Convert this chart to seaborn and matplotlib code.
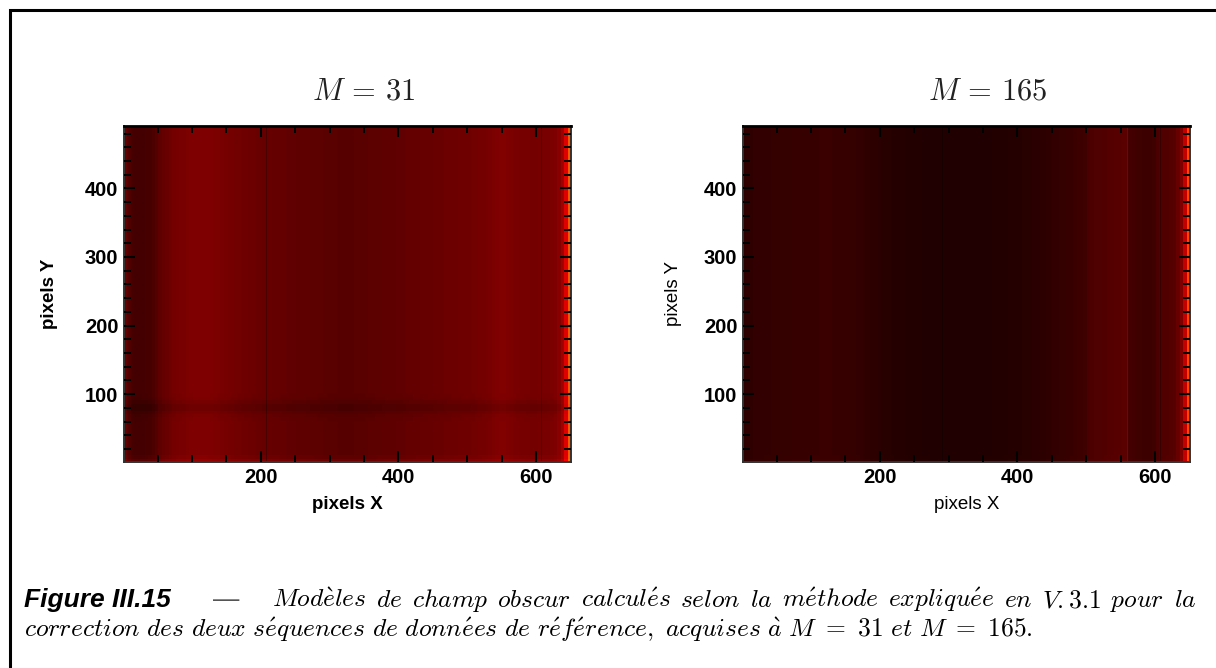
import numpy as np
import pandas as pd
import matplotlib
matplotlib.use("Agg")
import matplotlib.pyplot as plt
from matplotlib.lines import Line2D
import seaborn as sns

sns.set_theme(style="white")
plt.rcParams['font.family'] = ['Liberation Sans', 'DejaVu Sans']
plt.rcParams['mathtext.fontset'] = 'cm'

# column brightness, one value per 5 detector columns (X = 1 to 650)
profile_31 = [0.130, 0.100, 0.085, 0.082, 0.082, 0.083, 0.085, 0.088, 0.095, 0.105,
              0.118, 0.128, 0.135, 0.142, 0.148, 0.152, 0.155, 0.157, 0.160, 0.162,
              0.164, 0.165, 0.165, 0.165, 0.164, 0.163, 0.160, 0.158, 0.155, 0.152,
              0.150, 0.148, 0.146, 0.144, 0.142, 0.140, 0.138, 0.136, 0.135, 0.134,
              0.132, 0.130, 0.130, 0.128, 0.128, 0.126, 0.125, 0.124, 0.123, 0.122,
              0.121, 0.120, 0.119, 0.118, 0.117, 0.116, 0.115, 0.114, 0.113, 0.112,
              0.112, 0.111, 0.110, 0.110, 0.110, 0.110, 0.110, 0.111, 0.112, 0.112,
              0.113, 0.114, 0.115, 0.116, 0.117, 0.118, 0.119, 0.120, 0.120, 0.122,
              0.122, 0.124, 0.125, 0.126, 0.127, 0.128, 0.129, 0.130, 0.131, 0.132,
              0.133, 0.134, 0.135, 0.136, 0.137, 0.138, 0.139, 0.140, 0.141, 0.142,
              0.143, 0.144, 0.146, 0.148, 0.150, 0.152, 0.155, 0.160, 0.165, 0.167,
              0.167, 0.165, 0.160, 0.157, 0.155, 0.153, 0.152, 0.151, 0.150, 0.150,
              0.152, 0.154, 0.155, 0.156, 0.158, 0.165, 0.178, 0.210, 0.300, 0.460]
profile_165 = [0.048, 0.052, 0.054, 0.056, 0.056, 0.057, 0.058, 0.058, 0.059, 0.060,
               0.060, 0.061, 0.062, 0.062, 0.063, 0.064, 0.064, 0.065, 0.065, 0.066,
               0.066, 0.066, 0.067, 0.067, 0.067, 0.067, 0.066, 0.066, 0.065, 0.064,
               0.063, 0.062, 0.060, 0.058, 0.056, 0.054, 0.052, 0.050, 0.048, 0.046,
               0.044, 0.042, 0.041, 0.040, 0.039, 0.038, 0.037, 0.036, 0.035, 0.035,
               0.034, 0.034, 0.033, 0.033, 0.032, 0.032, 0.032, 0.031, 0.031, 0.031,
               0.031, 0.031, 0.031, 0.031, 0.031, 0.031, 0.031, 0.032, 0.032, 0.032,
               0.033, 0.033, 0.034, 0.034, 0.035, 0.035, 0.036, 0.037, 0.038, 0.039,
               0.040, 0.041, 0.042, 0.043, 0.045, 0.046, 0.048, 0.050, 0.052, 0.054,
               0.056, 0.058, 0.060, 0.062, 0.064, 0.066, 0.068, 0.070, 0.072, 0.074,
               0.090, 0.094, 0.096, 0.098, 0.100, 0.102, 0.104, 0.106, 0.108, 0.110,
               0.112, 0.112, 0.082, 0.078, 0.076, 0.074, 0.072, 0.072, 0.072, 0.074,
               0.090, 0.096, 0.100, 0.102, 0.104, 0.110, 0.130, 0.165, 0.260, 0.440]

# row offset, one value per 5 detector rows from Y = 1 up to 490
row_offset_31 = [0.028, 0.008, 0.0, 0.0, 0.0, 0.0, 0.0, 0.0, 0.0, 0.0, 0.0, 0.0,
                 -0.002, -0.005, -0.012, -0.022, -0.022, -0.012, -0.005, -0.002] + [0.0] * 78
row_offset_165 = [0.004, 0.001] + [0.0] * 96

dark_cols_31 = [207, 607]
dark_cols_165 = [290, 607]
bright_cols_165 = [560]

titles = ["$M\\,=\\,31$", "$M\\,=\\,165$"]
x_ticks = [200, 400, 600]
y_ticks = [100, 200, 300, 400]
x_start = 1
x_end = 650
y_start = 1
y_end = 490
bin_size = 5


def to_cell(v, start):
    return (np.asarray(v, dtype=float) - start) / bin_size


def draw_panel(ax, profile, row_offset, dark, bright, title, bold, ylabel_x, title_x):
    weight = 'bold' if bold else 'normal'
    model = pd.DataFrame(np.add.outer(np.array(row_offset), np.array(profile)))
    sns.heatmap(model, ax=ax, cmap='hot', vmin=0, vmax=0.94, cbar=False,
                xticklabels=False, yticklabels=False)
    ax.invert_yaxis()
    ax.set_axisbelow(False)
    for c in dark:
        ax.axvline(to_cell(c, x_start), color='black', lw=0.6, alpha=0.35)
    for c in bright:
        ax.axvline(to_cell(c, x_start), color='#8a0000', lw=0.8, alpha=0.8)

    ax.set_xticks(to_cell(x_ticks, x_start))
    ax.set_xticklabels(x_ticks, fontsize=14.5, fontweight='bold')
    ax.set_yticks(to_cell(y_ticks, y_start))
    ax.set_yticklabels(y_ticks, fontsize=14.5, fontweight='bold', rotation=0)
    ax.set_xticks(to_cell(np.arange(50, x_end, 50), x_start), minor=True)
    ax.set_yticks(to_cell(np.arange(20, y_end, 20), y_start), minor=True)
    ax.tick_params(which='major', direction='in', length=8, width=1.5, color='black',
                   top=True, right=True, bottom=True, left=True, pad=4, labelcolor='black')
    ax.tick_params(which='minor', direction='in', length=5, width=1.4, color='black',
                   top=True, right=True, bottom=True, left=True)
    for name, side in ax.spines.items():
        side.set_visible(True)
        side.set_color('black' if name == 'top' else '#333333')
        side.set_linewidth(2.0 if name == 'top' else 1.4)
    ax.set_xlabel("pixels X", fontsize=13.5, fontweight=weight, color='black', labelpad=7)
    ax.set_ylabel("pixels Y", fontsize=13.5, fontweight=weight, color='black')
    ax.yaxis.set_label_coords(ylabel_x, 0.5)
    ax.set_title(title, fontsize=22, color='#222222', pad=19, x=title_x)


fig = plt.figure(figsize=(12.16, 6.68), dpi=100)
W, H = 1216.0, 668.0
ax1 = fig.add_axes([124 / W, 1 - 462 / H, 447 / W, 336 / H])
ax2 = fig.add_axes([743 / W, 1 - 462 / H, 447 / W, 336 / H])
draw_panel(ax1, profile_31, row_offset_31, dark_cols_31, [], titles[0], True, -0.148, 0.535)
draw_panel(ax2, profile_165, row_offset_165, dark_cols_165, bright_cols_165, titles[1], False, -0.137, 0.548)

# page frame
fig.add_artist(Line2D([9.5 / W, 9.5 / W, 1], [0, 1 - 9.5 / H, 1 - 9.5 / H], color='black', lw=2.2,
                      solid_joinstyle='miter', solid_capstyle='butt'))

# caption, first line justified word by word
line1 = ["Mod\\grave{e}les", "de", "champ", "obscur", "calcul\\acute{e}s", "selon", "la",
         "m\\acute{e}thode", "expliqu\\acute{e}e", "en", "V.3.1", "pour", "la"]
line2 = ("correction\\ des\\ deux\\ s\\acute{e}quences\\ de\\ donn\\acute{e}es\\ de\\ "
         "r\\acute{e}f\\acute{e}rence,\\ acquises\\ \\grave{a}\\ M\\ =\\ 31\\ et\\ M\\ =\\ 165.")
cap_y1 = 1 - 607 / H
cap_y2 = 1 - 637 / H
fig.text(24 / W, cap_y1, "Figure III.15", fontsize=19, fontweight='bold', style='italic',
         color='black', va='baseline')
fig.text(213 / W, cap_y1, "\u2014", fontsize=19, color='#555555', va='baseline')
fig.canvas.draw()
rend = fig.canvas.get_renderer()
words = [fig.text(0, cap_y1, "$\\mathit{%s}$" % w, fontsize=18.4, color='black', va='baseline') for w in line1]
widths = [t.get_window_extent(rend).width for t in words]
x_left, x_right = 272.0, 1196.0
gap = (x_right - x_left - sum(widths)) / (len(words) - 1)
pos = x_left
for t, w in zip(words, widths):
    t.set_x(pos / W)
    pos += w + gap
fig.text(24 / W, cap_y2, "$\\mathit{%s}$" % line2, fontsize=18.4, color='black', va='baseline')

fig.savefig("out.png", dpi=100)
